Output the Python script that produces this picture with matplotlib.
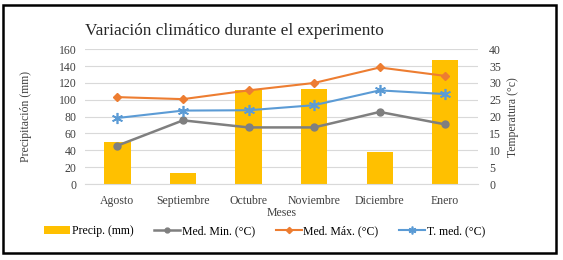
import matplotlib
matplotlib.use("Agg")
import matplotlib.pyplot as plt
from matplotlib.patches import Rectangle

# data
meses = ["Agosto", "Septiembre", "Octubre", "Noviembre", "Diciembre", "Enero"]
precip = [50, 13, 112, 113, 38, 147]
med_min = [11.4, 18.9, 16.8, 16.8, 21.4, 17.7]
med_max = [25.8, 25.2, 27.8, 30.0, 34.6, 32.1]
t_med = [19.6, 21.8, 21.9, 23.4, 27.8, 26.7]

plt.rcParams["font.family"] = ["Liberation Serif", "DejaVu Serif"]

fig = plt.figure(figsize=(5.63, 2.60), dpi=100)
ax = fig.add_axes([0.1504, 0.2923, 0.6986, 0.5181])
ax2 = ax.twinx()

x = range(len(meses))
bars = ax.bar(x, precip, width=0.4, color="#FFC000", zorder=2, label="Precip. (mm)")
ax.set_ylim(0, 160)
ax.set_yticks(range(0, 161, 20))
ax.set_xlim(-0.5, len(meses) - 0.5)
ax.set_xticks(list(x))
ax.set_xticklabels(meses)
ax.grid(axis="y", color="#D9D9D9", linewidth=0.8, zorder=0)
ax.set_axisbelow(True)

l1, = ax2.plot(x, med_min, color="#7F7F7F", marker="o", markersize=5, linewidth=1.8, label="Med. Min. (°C)")
l2, = ax2.plot(x, med_max, color="#ED7D31", marker="D", markersize=4.5, linewidth=1.5, label="Med. Máx. (°C)")
l3, = ax2.plot(x, t_med, color="#5B9BD5", marker=(6, 2, 0), markersize=8, markeredgewidth=1.2, linewidth=1.5, label="T. med. (°C)")
ax2.set_ylim(0, 40)
ax2.set_yticks(range(0, 41, 5))

for a in (ax, ax2):
    for s in a.spines.values():
        s.set_visible(False)
    a.tick_params(length=0, labelsize=8.5, colors="#404040")
ax.spines["bottom"].set_visible(True)
ax.spines["bottom"].set_color("#D9D9D9")
ax.tick_params(axis="x", pad=8)
ax.tick_params(axis="y", pad=6)
ax2.tick_params(axis="y", pad=8)

ax.set_xlabel("Meses", fontsize=8.5, labelpad=0, color="#404040")
ax.set_ylabel("Precipitación (mm)", fontsize=8.5, labelpad=19, color="#404040")
ax2.set_ylabel("Temperatura (°c)", fontsize=8.5, labelpad=4, color="#404040")

fig.text(0.151, 0.882, "Variación climático durante el experimento", fontsize=12.4, color="#262626", va="center")

fig.legend(handles=[bars, l1, l2, l3], loc="center", bbox_to_anchor=(0.47, 0.11), ncol=4,
           frameon=False, fontsize=8.5, handlelength=2.2, handletextpad=0.1, columnspacing=1.8,
           markerscale=0.7)

# black frame around the picture
fig.patches.append(Rectangle((0.006, 0.027), 0.982, 0.955, transform=fig.transFigure,
                             fill=False, edgecolor="black", linewidth=1.8))

fig.savefig("out.png", dpi=100)
